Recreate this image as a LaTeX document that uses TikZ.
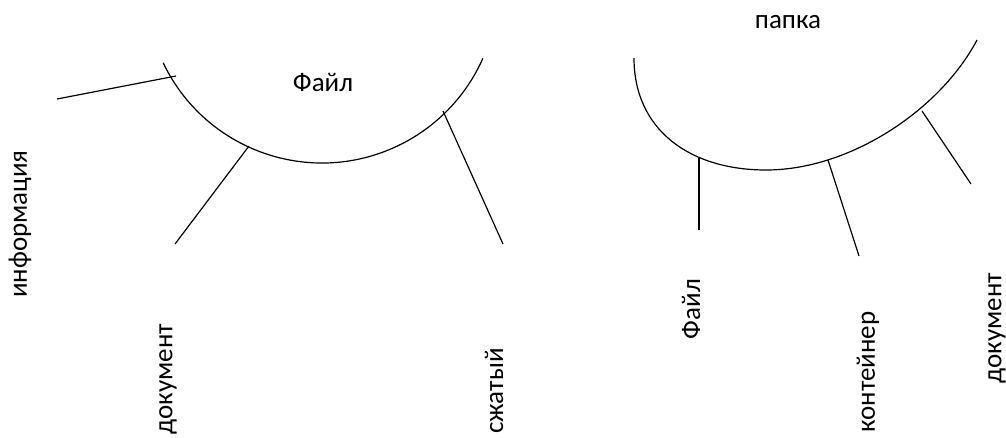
\documentclass[tikz,border=0pt]{standalone}
\usepackage{fontspec}
\setmainfont{Carlito}
\begin{document}
\begin{tikzpicture}[x=1pt,y=-1pt,
  conn/.style={line width=1.2pt, black},
  lbl/.style={font=\fontsize{27}{31}\selectfont, inner sep=0pt},
  vlbl/.style={lbl, rotate=90}]
\useasboundingbox (0,0) rectangle (1006,437);
% left arc
\draw[conn] (322,-13) ++(154.5:176) arc[start angle=154.5, end angle=23.9, radius=176];
% right arc
\draw[conn] (634,58) .. controls (634,130) and (690,170) .. (766,170)
  .. controls (850,170) and (940,110) .. (977,40);
% labels
\node[lbl] (fileA) at (323,82) {Файл};
\node[lbl] (folder) at (788,22) {папка};
\node[vlbl] (info) at (20,224) {информация};
\node[vlbl] (docA) at (168,379) {документ};
\node[vlbl] (zip) at (494,391) {сжатый};
\node[vlbl] (fileB) at (691,309) {Файл};
\node[vlbl] (cont) at (868,372) {контейнер};
\node[vlbl] (docB) at (997,328) {документ};
% connector ends
\coordinate (i1) at (57,99);   \coordinate (i2) at (176,76);
\coordinate (d1) at (249,146); \coordinate (d2) at (175,244);
\coordinate (z1) at (443,111); \coordinate (z2) at (503,244);
\coordinate (f1) at (699,158); \coordinate (f2) at (699,230);
\coordinate (c1) at (828,160); \coordinate (c2) at (859,256);
\coordinate (k1) at (922,111); \coordinate (k2) at (971,184);
\draw[conn] (i1) -- (i2);
\draw[conn] (d1) -- (d2);
\draw[conn] (z1) -- (z2);
\draw[conn] (f1) -- (f2);
\draw[conn] (c1) -- (c2);
\draw[conn] (k1) -- (k2);
\end{tikzpicture}
\end{document}
